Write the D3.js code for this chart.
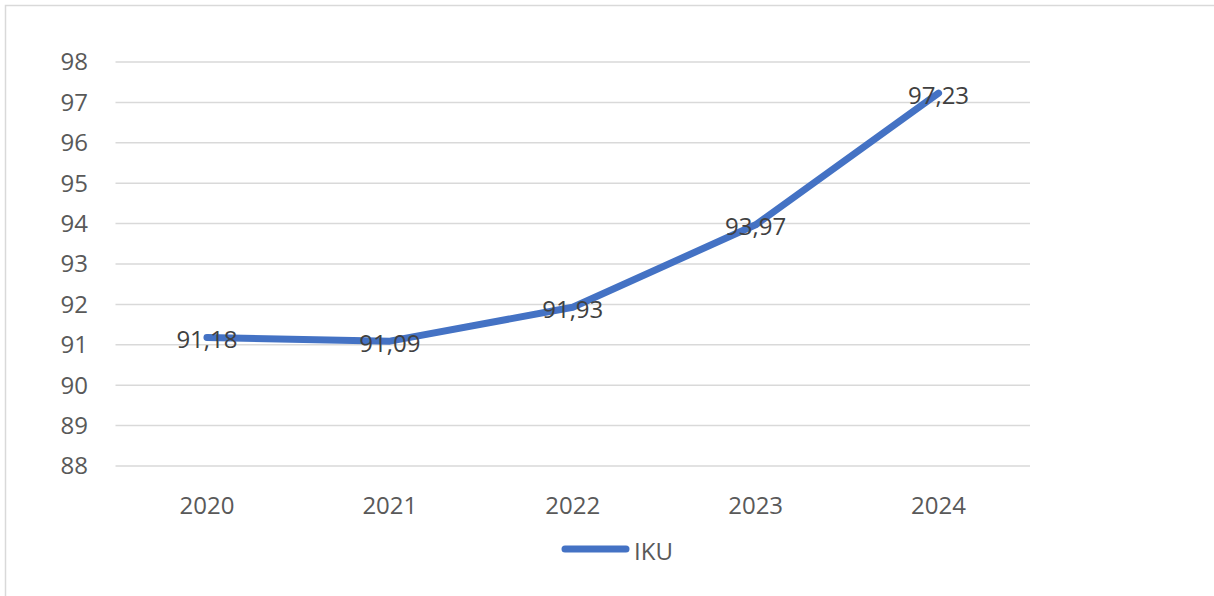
<!DOCTYPE html>
<html>
<head>
<meta charset="utf-8">
<script src="https://cdn.jsdelivr.net/npm/d3@7"></script>
<style>
  html, body { margin: 0; padding: 0; background: #fff; }
  svg { display: block; }
  text { font-family: "Open Sans", "Noto Sans", sans-serif; }
</style>
</head>
<body>
<svg id="chart" width="1214" height="596"></svg>
<script>
// IKU yearly values
const years = ["2020", "2021", "2022", "2023", "2024"];
const iku = [91.18, 91.09, 91.93, 93.97, 97.23];
const yTicks = [88, 89, 90, 91, 92, 93, 94, 95, 96, 97, 98];
const seriesName = "IKU";

const W = 1214, H = 596;
const svg = d3.select("#chart");

// chart frame
svg.append("rect")
  .attr("x", 5.5).attr("y", 5.5)
  .attr("width", W + 20).attr("height", H + 20)
  .attr("fill", "#fff")
  .attr("stroke", "#d9d9d9")
  .attr("stroke-width", 1.5);

const plot = { left: 115.5, right: 1030, top: 62, bottom: 466 };

const x = d3.scaleBand().domain(years).range([plot.left, plot.right]);
const y = d3.scaleLinear().domain([88, 98]).range([plot.bottom, plot.top]);

// horizontal gridlines
svg.append("g")
  .selectAll("line")
  .data(yTicks)
  .join("line")
  .attr("x1", plot.left).attr("x2", plot.right)
  .attr("y1", d => y(d)).attr("y2", d => y(d))
  .attr("stroke", "#d9d9d9")
  .attr("stroke-width", 1.5);

// y axis labels
svg.append("g")
  .selectAll("text")
  .data(yTicks)
  .join("text")
  .attr("x", 88)
  .attr("y", d => y(d))
  .attr("dy", "0.35em")
  .attr("text-anchor", "end")
  .attr("font-size", 24)
  .attr("fill", "#595959")
  .text(d => d);

// x axis labels
svg.append("g")
  .selectAll("text")
  .data(years)
  .join("text")
  .attr("x", d => x(d) + x.bandwidth() / 2)
  .attr("y", 514)
  .attr("text-anchor", "middle")
  .attr("font-size", 24)
  .attr("fill", "#595959")
  .text(d => d);

// series line
const pts = years.map((yr, i) => ({ yr, v: iku[i] }));
const line = d3.line()
  .x(d => x(d.yr) + x.bandwidth() / 2)
  .y(d => y(d.v));

svg.append("path")
  .datum(pts)
  .attr("d", line)
  .attr("fill", "none")
  .attr("stroke", "#4472c4")
  .attr("stroke-width", 7)
  .attr("stroke-linecap", "round")
  .attr("stroke-linejoin", "round");

// data labels, centered on the points
svg.append("g")
  .selectAll("text")
  .data(pts)
  .join("text")
  .attr("x", d => x(d.yr) + x.bandwidth() / 2)
  .attr("y", d => y(d.v) + 2)
  .attr("dy", "0.35em")
  .attr("text-anchor", "middle")
  .attr("font-size", 24)
  .attr("fill", "#404040")
  .text(d => d.v.toFixed(2).replace(".", ","));

// legend
const lg = svg.append("g");
lg.append("line")
  .attr("x1", 565).attr("x2", 626)
  .attr("y1", 549).attr("y2", 549)
  .attr("stroke", "#4472c4")
  .attr("stroke-width", 7)
  .attr("stroke-linecap", "round");
lg.append("text")
  .attr("x", 634)
  .attr("y", 560)
  .attr("font-size", 24)
  .attr("fill", "#595959")
  .text(seriesName);
</script>
</body>
</html>
